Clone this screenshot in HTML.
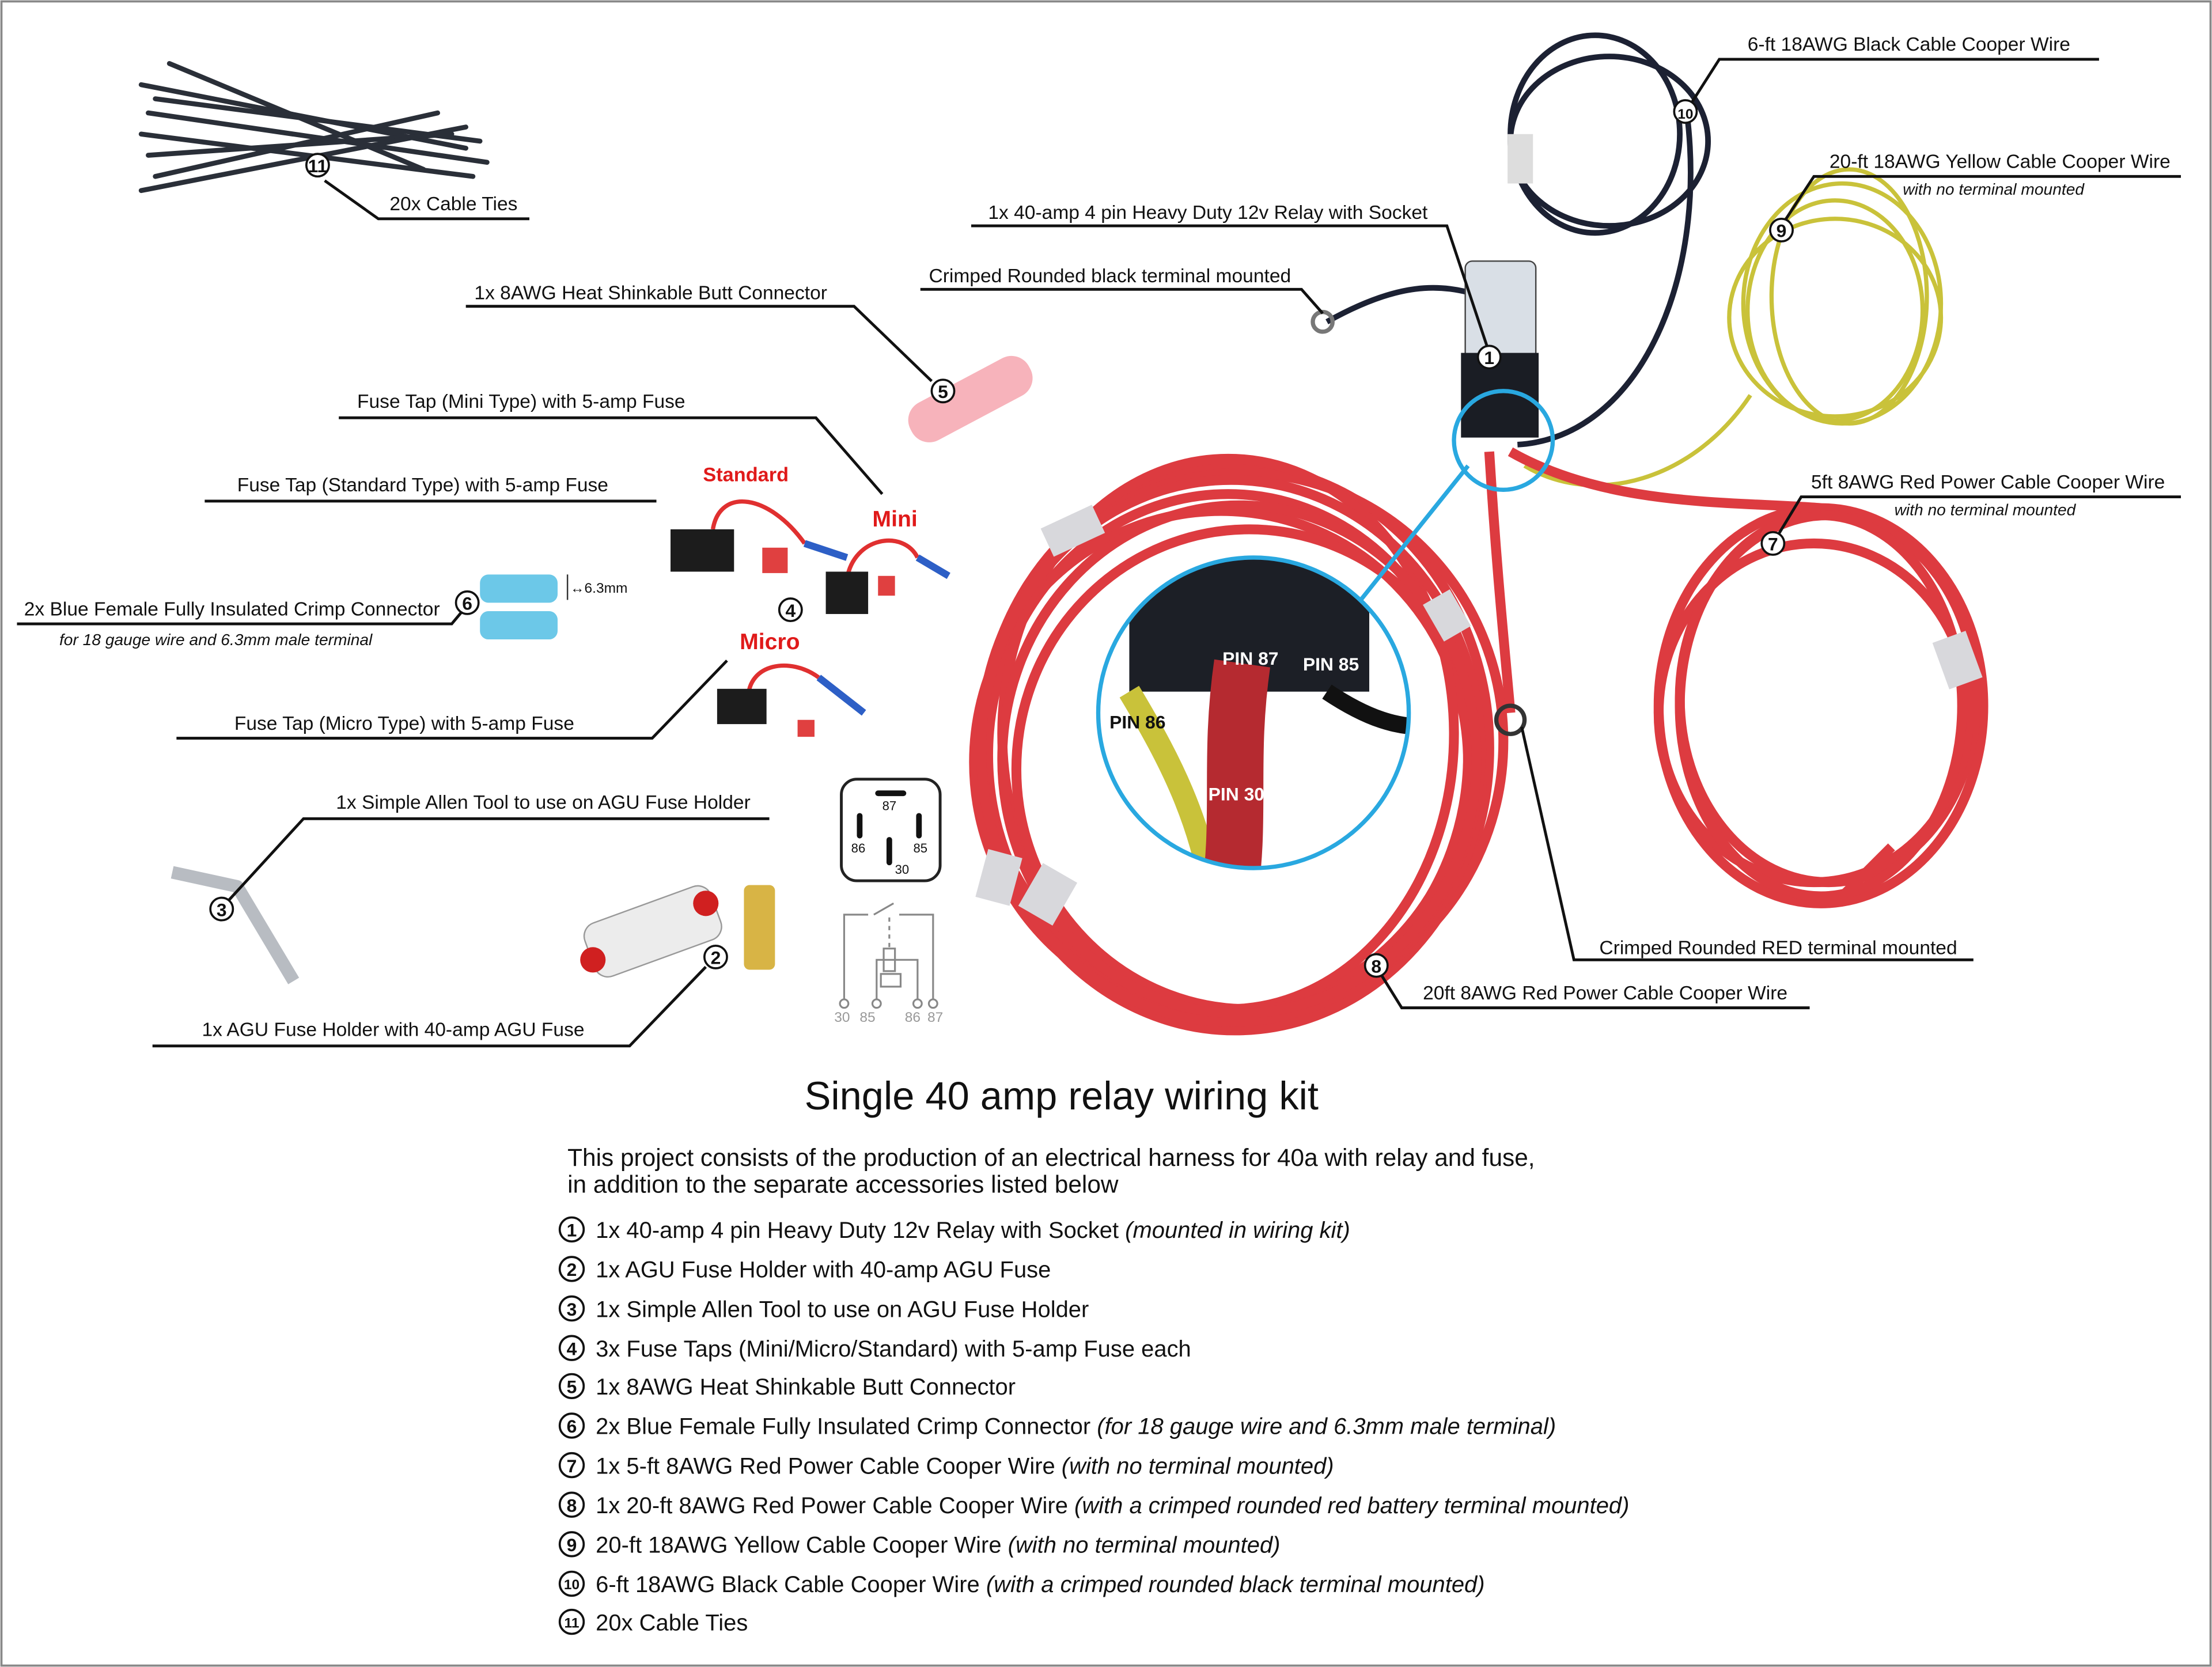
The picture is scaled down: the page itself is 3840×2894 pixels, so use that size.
<!DOCTYPE html>
<html><head><meta charset="utf-8"><style>
html,body{margin:0;padding:0;background:#fff}
svg{display:block}
text{font-family:"Liberation Sans",sans-serif;fill:#111}
.l{font-size:13.7px}
.i{font-size:11.5px;font-style:italic}
.ln{stroke:#111;stroke-width:2;fill:none}
.red{fill:none;stroke:#dd3b40;stroke-width:7}
.num{font-size:13px;font-weight:bold;text-anchor:middle}
.li{font-size:16.3px}
</style></head><body>
<svg width="3840" height="2894" viewBox="0 0 1567 1181" xmlns="http://www.w3.org/2000/svg">
<rect x="1" y="1" width="1565" height="1179" fill="#fff" stroke="#888" stroke-width="1.5"/>

<!-- cable ties -->
<g stroke="#2a2f38" stroke-width="3.5" stroke-linecap="round">
<line x1="100" y1="60" x2="330" y2="105"/><line x1="110" y1="70" x2="340" y2="100"/>
<line x1="105" y1="80" x2="345" y2="115"/><line x1="100" y1="95" x2="335" y2="125"/>
<line x1="105" y1="110" x2="320" y2="95"/><line x1="110" y1="125" x2="310" y2="80"/>
<line x1="120" y1="45" x2="300" y2="120"/><line x1="100" y1="135" x2="330" y2="90"/>
</g>

<!-- black wire loops -->
<g fill="none" stroke="#1c2133" stroke-width="4">
<ellipse cx="1130" cy="95" rx="60" ry="70"/><ellipse cx="1140" cy="100" rx="70" ry="60"/>
<path d="M1195 80 C1210 200 1160 310 1075 315"/>
<path d="M940 228 C990 200 1020 200 1050 210"/>
</g>
<rect x="1068" y="95" width="18" height="35" fill="#ddd"/>
<circle cx="937" cy="228" r="7" fill="none" stroke="#777" stroke-width="3"/>

<!-- yellow coil -->
<g fill="none" stroke="#c9c23a" stroke-width="3">
<ellipse cx="1305" cy="215" rx="70" ry="85"/><ellipse cx="1300" cy="220" rx="62" ry="78"/>
<ellipse cx="1310" cy="210" rx="55" ry="90"/><ellipse cx="1300" cy="225" rx="75" ry="70"/>
<path d="M1240 280 C1200 340 1130 360 1080 330"/>
</g>

<!-- relay -->
<rect x="1038" y="185" width="50" height="70" rx="5" fill="#d9dfe6" stroke="#444"/>
<rect x="1035" y="250" width="55" height="60" fill="#1a1d24"/>

<!-- big red coil -->
<g class="red">
<ellipse cx="875" cy="530" rx="180" ry="200"/><ellipse cx="870" cy="535" rx="170" ry="185"/>
<ellipse cx="880" cy="525" rx="185" ry="190"/><ellipse cx="865" cy="540" rx="175" ry="178"/>
<ellipse cx="870" cy="520" rx="160" ry="195"/><ellipse cx="885" cy="545" rx="165" ry="170"/>
<ellipse cx="872" cy="532" rx="177" ry="192"/><ellipse cx="878" cy="538" rx="168" ry="180"/>
<path d="M1055 320 C1060 400 1065 450 1070 505"/>
</g>
<!-- right red coil -->
<g class="red">
<ellipse cx="1290" cy="500" rx="115" ry="140"/><ellipse cx="1295" cy="495" rx="105" ry="130"/>
<ellipse cx="1285" cy="505" rx="110" ry="120"/><ellipse cx="1290" cy="500" rx="100" ry="135"/>
<path d="M1070 320 C1140 360 1230 355 1290 360"/><path d="M1300 640 L1340 600"/>
</g>
<g fill="#d8d8dc">
<rect x="740" y="365" width="40" height="22" transform="rotate(-25 760 376)"/>
<rect x="1010" y="425" width="30" height="22" transform="rotate(60 1025 436)"/>
<rect x="690" y="610" width="35" height="25" transform="rotate(-75 707 622)"/>
<rect x="725" y="620" width="35" height="28" transform="rotate(-60 742 634)"/>
<rect x="1370" y="455" width="35" height="25" transform="rotate(70 1387 467)"/>
</g>
<circle cx="1070" cy="510" r="10" fill="none" stroke="#333" stroke-width="3"/>

<!-- magnifier -->
<line x1="960" y1="430" x2="1040" y2="330" stroke="#29a8e0" stroke-width="3"/>
<circle cx="1065" cy="312" r="35" fill="none" stroke="#29a8e0" stroke-width="3"/>
<clipPath id="mc"><circle cx="888" cy="505" r="110"/></clipPath>
<g clip-path="url(#mc)">
<rect x="770" y="390" width="240" height="240" fill="#fff"/>
<rect x="800" y="390" width="170" height="100" fill="#1c1f26"/>
<path d="M800 490 C830 540 850 580 860 640" stroke="#c9c23a" stroke-width="16" fill="none"/>
<path d="M880 470 C870 540 880 580 870 640" stroke="#b52a30" stroke-width="40" fill="none"/>
<path d="M940 490 C970 510 990 515 1010 515" stroke="#111" stroke-width="12" fill="none"/>
</g>
<circle cx="888" cy="505" r="110" fill="none" stroke="#29a8e0" stroke-width="3"/>
<g font-weight="bold" font-size="13">
<text x="866" y="471" style="fill:#fff">PIN 87</text><text x="923" y="475" style="fill:#fff">PIN 85</text>
<text x="786" y="516">PIN 86</text><text x="856" y="567" style="fill:#fff">PIN 30</text>
</g>

<!-- butt connector -->
<rect x="640" y="268" width="95" height="30" rx="14" fill="#f7b3bb" transform="rotate(-28 687 283)"/>

<!-- fuse taps -->
<text x="498" y="341" font-size="14" font-weight="bold" style="fill:#e01a1a">Standard</text>
<text x="618" y="373" font-size="16" font-weight="bold" style="fill:#e01a1a">Mini</text>
<text x="524" y="460" font-size="16" font-weight="bold" style="fill:#e01a1a">Micro</text>
<g stroke-width="3" fill="none">
<path d="M505 375 C510 345 545 350 570 385" stroke="#e03030"/><path d="M570 385 L600 395" stroke="#2d5fc6" stroke-width="5"/>
<path d="M600 410 C605 380 640 375 650 395" stroke="#e03030"/><path d="M650 395 L672 408" stroke="#2d5fc6" stroke-width="5"/>
<path d="M530 495 C530 470 560 465 580 480" stroke="#e03030"/><path d="M580 480 L612 505" stroke="#2d5fc6" stroke-width="5"/>
</g>
<rect x="475" y="375" width="45" height="30" fill="#1c1c1c"/><rect x="540" y="388" width="18" height="18" fill="#e04040"/>
<rect x="585" y="405" width="30" height="30" fill="#1c1c1c"/><rect x="622" y="408" width="12" height="14" fill="#e04040"/>
<rect x="508" y="488" width="35" height="25" fill="#1c1c1c"/><rect x="565" y="510" width="12" height="12" fill="#e04040"/>

<!-- blue crimp -->
<rect x="340" y="407" width="55" height="20" rx="6" fill="#6cc8e8"/>
<rect x="340" y="433" width="55" height="20" rx="6" fill="#6cc8e8"/>
<line x1="402" y1="407" x2="402" y2="425" stroke="#333"/>
<text x="404" y="420" font-size="10">↔6.3mm</text>

<!-- allen tool -->
<path d="M122 618 L168 628 L208 695" stroke="#b8bcc2" stroke-width="9" fill="none" stroke-linejoin="round"/>
<!-- fuse holder -->
<rect x="415" y="640" width="95" height="40" rx="10" fill="#ececec" stroke="#999" transform="rotate(-20 462 660)"/>
<circle cx="420" cy="680" r="9" fill="#d02020"/><circle cx="500" cy="640" r="9" fill="#d02020"/>
<rect x="527" y="627" width="22" height="60" rx="4" fill="#d8b445"/>

<!-- relay diagrams -->
<rect x="596" y="552" width="70" height="72" rx="11" fill="#fff" stroke="#222" stroke-width="2"/>
<g stroke="#111" stroke-width="4" stroke-linecap="round">
<line x1="622" y1="562" x2="640" y2="562"/><line x1="609" y1="578" x2="609" y2="592"/>
<line x1="651" y1="578" x2="651" y2="592"/><line x1="630" y1="595" x2="630" y2="611"/></g>
<g font-size="9"><text x="625" y="574">87</text><text x="603" y="604">86</text><text x="647" y="604">85</text><text x="634" y="619">30</text></g>
<g stroke="#888" stroke-width="1.3" fill="none">
<path d="M598 708 V648 H615"/><path d="M619 648 L633 640"/><path d="M637 648 H661 V708"/>
<path d="M630 650 V672" stroke-dasharray="3 3"/><rect x="626" y="672" width="8" height="16"/>
<path d="M621 708 V680 H650 V708"/><rect x="624" y="690" width="14" height="9"/>
<circle cx="598" cy="711" r="3"/><circle cx="621" cy="711" r="3"/><circle cx="650" cy="711" r="3"/><circle cx="661" cy="711" r="3"/></g>
<g font-size="10"><text x="591" y="724" style="fill:#999">30</text><text x="609" y="724" style="fill:#999">85</text><text x="641" y="724" style="fill:#999">86</text><text x="657" y="724" style="fill:#999">87</text></g>

<!-- leader lines -->
<g class="ln">
<path d="M230 128 L268 155 H375"/>
<path d="M330 217 H605 L660 270"/>
<path d="M240 296 H578 L625 350"/>
<path d="M145 355 H465"/>
<path d="M12 442 H320 L330 430"/>
<path d="M125 523 H462 L515 468"/>
<path d="M160 640 L215 580 H545"/>
<path d="M108 741 H446 L500 685"/>
<path d="M1195 78 L1218 42 H1487"/>
<path d="M1262 160 L1285 125 H1545"/>
<path d="M688 160 H1025 L1055 250"/>
<path d="M652 205 H922 L937 222"/>
<path d="M1256 385 L1276 352 H1545"/>
<path d="M1078 515 L1115 680 H1398"/>
<path d="M975 685 L993 714 H1282"/>
</g>
<!-- markers -->
<g fill="#fff" stroke="#111" stroke-width="1.5">
<circle cx="225" cy="117" r="8"/><circle cx="668" cy="277" r="8"/><circle cx="560" cy="432" r="8"/>
<circle cx="331" cy="427" r="8"/><circle cx="157" cy="644" r="8"/><circle cx="507" cy="678" r="8"/>
<circle cx="1194" cy="79" r="8"/><circle cx="1262" cy="163" r="8"/><circle cx="1055" cy="253" r="8"/>
<circle cx="1256" cy="385" r="8"/><circle cx="975" cy="684" r="8"/></g>
<g class="num"><text x="225" y="122">11</text><text x="668" y="282">5</text><text x="560" y="437">4</text>
<text x="331" y="432">6</text><text x="157" y="649">3</text><text x="507" y="683">2</text>
<text x="1194" y="84" font-size="10">10</text><text x="1262" y="168">9</text><text x="1055" y="258">1</text>
<text x="1256" y="390">7</text><text x="975" y="689">8</text></g>

<!-- labels -->
<text class="l" x="276" y="149">20x Cable Ties</text>
<text class="l" x="336" y="212">1x 8AWG Heat Shinkable Butt Connector</text>
<text class="l" x="253" y="289">Fuse Tap (Mini Type) with 5-amp Fuse</text>
<text class="l" x="168" y="348">Fuse Tap (Standard Type) with 5-amp Fuse</text>
<text class="l" x="17" y="436">2x Blue Female Fully Insulated Crimp Connector</text>
<text class="i" x="42" y="457">for 18 gauge wire and 6.3mm male terminal</text>
<text class="l" x="166" y="517">Fuse Tap (Micro Type) with 5-amp Fuse</text>
<text class="l" x="238" y="573">1x Simple Allen Tool to use on AGU Fuse Holder</text>
<text class="l" x="143" y="734">1x AGU Fuse Holder with 40-amp AGU Fuse</text>
<text class="l" x="1238" y="36">6-ft 18AWG Black Cable Cooper Wire</text>
<text class="l" x="1296" y="119">20-ft 18AWG Yellow Cable Cooper Wire</text>
<text class="i" x="1348" y="138">with no terminal mounted</text>
<text class="l" x="700" y="155">1x 40-amp 4 pin Heavy Duty 12v Relay with Socket</text>
<text class="l" x="658" y="200">Crimped Rounded black terminal mounted</text>
<text class="l" x="1283" y="346">5ft 8AWG Red Power Cable Cooper Wire</text>
<text class="i" x="1342" y="365">with no terminal mounted</text>
<text class="l" x="1133" y="676">Crimped Rounded RED terminal mounted</text>
<text class="l" x="1008" y="708">20ft 8AWG Red Power Cable Cooper Wire</text>

<!-- title & list -->
<text x="752" y="786" font-size="28" text-anchor="middle">Single 40 amp relay wiring kit</text>
<text x="402" y="826" font-size="17.3">This project consists of the production of an electrical harness for 40a with relay and fuse,</text>
<text x="402" y="845" font-size="17.3">in addition to the separate accessories listed below</text>
<g class="li">
<text x="422" y="877">1x 40-amp 4 pin Heavy Duty 12v Relay with Socket <tspan font-style="italic">(mounted in wiring kit)</tspan></text>
<text x="422" y="905">1x AGU Fuse Holder with 40-amp AGU Fuse</text>
<text x="422" y="933">1x Simple Allen Tool to use on AGU Fuse Holder</text>
<text x="422" y="961">3x Fuse Taps (Mini/Micro/Standard) with 5-amp Fuse each</text>
<text x="422" y="988">1x 8AWG Heat Shinkable Butt Connector</text>
<text x="422" y="1016">2x Blue Female Fully Insulated Crimp Connector <tspan font-style="italic">(for 18 gauge wire and 6.3mm male terminal)</tspan></text>
<text x="422" y="1044">1x 5-ft 8AWG Red Power Cable Cooper Wire <tspan font-style="italic">(with no terminal mounted)</tspan></text>
<text x="422" y="1072">1x 20-ft 8AWG Red Power Cable Cooper Wire <tspan font-style="italic">(with a crimped rounded red battery terminal mounted)</tspan></text>
<text x="422" y="1100">20-ft 18AWG Yellow Cable Cooper Wire <tspan font-style="italic">(with no terminal mounted)</tspan></text>
<text x="422" y="1128">6-ft 18AWG Black Cable Cooper Wire <tspan font-style="italic">(with a crimped rounded black terminal mounted)</tspan></text>
<text x="422" y="1155">20x Cable Ties</text>
</g>
<g fill="#fff" stroke="#111" stroke-width="1.5">
<circle cx="405" cy="871" r="8.5"/><circle cx="405" cy="899" r="8.5"/><circle cx="405" cy="927" r="8.5"/>
<circle cx="405" cy="955" r="8.5"/><circle cx="405" cy="982" r="8.5"/><circle cx="405" cy="1010" r="8.5"/>
<circle cx="405" cy="1038" r="8.5"/><circle cx="405" cy="1066" r="8.5"/><circle cx="405" cy="1094" r="8.5"/>
<circle cx="405" cy="1122" r="8.5"/><circle cx="405" cy="1149" r="8.5"/></g>
<g class="num"><text x="405" y="876">1</text><text x="405" y="904">2</text><text x="405" y="932">3</text>
<text x="405" y="960">4</text><text x="405" y="987">5</text><text x="405" y="1015">6</text>
<text x="405" y="1043">7</text><text x="405" y="1071">8</text><text x="405" y="1099">9</text>
<text x="405" y="1126" font-size="10">10</text><text x="405" y="1153" font-size="10">11</text></g>
</svg>
</body></html>
